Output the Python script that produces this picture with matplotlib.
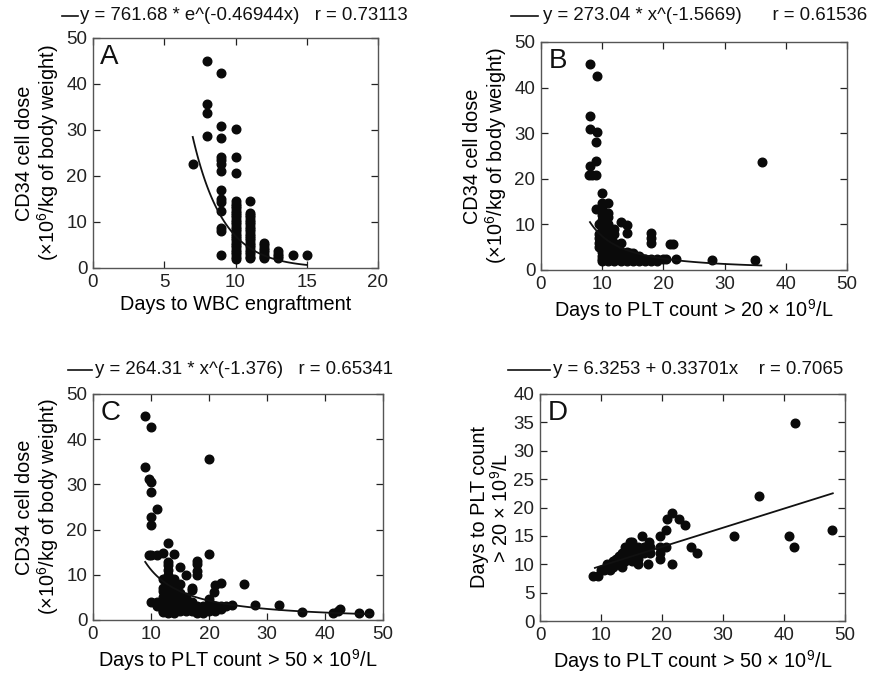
import numpy as np
import matplotlib
matplotlib.use("Agg")
import matplotlib.pyplot as plt
from matplotlib.lines import Line2D

plt.rcParams['font.family'] = ['Liberation Sans', 'DejaVu Sans']
plt.rcParams['mathtext.fontset'] = 'custom'
plt.rcParams['mathtext.rm'] = 'Liberation Sans'
plt.rcParams['mathtext.it'] = 'Liberation Sans'
plt.rcParams['mathtext.default'] = 'regular'

# ---------------- Panel A data: days to WBC engraftment vs CD34 dose
days_wbc_a = ([7] + [8]*4 + [9]*14 + [10]*29 + [11]*22 + [12]*8 + [13]*4 + [14, 15])
cd34_a = [22.7,
          45.1, 35.7, 33.7, 28.8,
          42.4, 30.9, 28.3, 24.1, 23.4, 22.7, 21.0, 16.9, 14.9, 14.3, 12.3, 8.7, 8.0, 2.9,
          30.2, 24.1, 20.7, 14.5, 14.0, 13.5, 13.0, 12.5, 12.0, 11.5, 11.0, 10.5, 10.0, 9.5,
          9.0, 8.5, 8.0, 7.5, 7.0, 6.5, 6.0, 5.5, 5.0, 4.5, 4.0, 3.5, 3.0, 2.5, 2.0,
          14.6, 12.0, 11.5, 11.0, 10.5, 10.0, 9.5, 9.0, 8.5, 8.0, 7.5, 7.0, 6.5, 6.0, 5.5,
          5.0, 4.5, 4.0, 3.5, 3.0, 2.5, 2.1,
          5.4, 4.9, 4.4, 3.9, 3.4, 2.9, 2.4, 2.1,
          3.6, 3.1, 2.6, 2.1,
          2.9, 2.9]
fit_a = (761.68, -0.46944, 7, 15)

# ---------------- Panel B data: days to PLT > 20 vs CD34 dose
days_plt20_b = [8, 9.1, 8, 8, 9.1, 9, 9, 8, 7.8, 8.3, 9, 36.1, 10, 10, 11, 9, 10, 11, 11,
                13, 14, 14, 18, 18, 18, 21, 21.5, 20.5, 22, 28, 35, 14.5, 15,
                9.5, 9.5, 9.5, 9.5, 9.5,
                10, 10, 10, 10, 10, 10, 10, 10, 10, 10, 10, 10,
                10.5, 10.5, 10.5, 10.5, 10.5, 10.5, 10.5, 10.5, 10.5,
                11, 11, 11, 11, 11, 11, 11, 11, 11, 11,
                11.5, 11.5, 11.5, 11.5, 11.5, 11.5,
                12, 12, 12, 12, 12, 12, 12, 12,
                12.5, 12.5, 13, 13, 13, 13, 13, 14, 14, 14, 14, 15, 15, 15,
                16, 16, 16, 17, 17, 18, 18, 19, 19, 20]
cd34_b = [45.2, 42.5, 33.7, 30.9, 30.2, 28.0, 24.0, 22.7, 20.9, 20.9, 20.9, 23.6, 16.8, 14.6, 14.6,
          13.4, 13.4, 12.5, 11.7, 10.5, 9.9, 8.1, 8.1, 7.0, 6.0, 5.7, 5.7, 2.4, 2.4, 2.2, 2.2, 3.7, 3.7,
          10, 8, 7, 6, 5,
          12, 11, 10, 9, 8, 7, 6, 5, 4, 3, 2.5, 2,
          10, 9, 8, 7, 6, 5, 4, 3, 2.5,
          10, 9, 8, 7, 6, 5, 4, 3, 2.5, 2,
          9, 7, 5, 4, 3, 2.5,
          9, 8, 6, 5, 4, 3, 2.5, 2,
          3.5, 2.5, 6, 4, 3, 2.5, 2, 4, 3, 2.5, 2, 3, 2.5, 2,
          3, 2.5, 2, 2.5, 2, 2.5, 2, 2.5, 2, 2.5]
fit_b = (273.04, -1.5669, 8, 36)

# ---------------- Panel C data: days to PLT > 50 vs CD34 dose
days_plt50_c = [9, 10, 9, 9.6, 10, 10, 11, 10, 10, 20, 13, 9.6, 10, 11, 12, 14, 20, 18, 18, 18, 18,
                13, 13, 15, 16, 17, 22, 21, 20.8, 26, 17, 12, 28, 32, 36, 41.4, 42.2, 42.5, 45.8,
                47.5, 12, 20,
                10, 11, 11, 12, 12, 12, 12, 12, 12,
                13, 13, 13, 13, 13, 13, 13, 13, 13, 13, 13,
                13.5, 13.5, 13.5, 13.5, 13.5, 13.5,
                14, 14, 14, 14, 14, 14, 14, 14,
                15, 15, 15, 15, 15, 15, 16, 16, 16, 16, 17, 17, 17,
                18, 18, 18, 19, 19, 19, 20, 20, 21, 21, 22, 22, 23, 24]
cd34_c = [45.2, 42.6, 33.9, 31.3, 30.6, 28.4, 24.5, 22.8, 21.0, 35.7, 17.1, 14.4, 14.4, 14.4, 14.9,
          14.5, 14.5, 13.1, 12.3, 10.9, 10.0, 12.9, 12.2, 11.7, 10.0, 7.1, 8.2, 7.7, 6.2, 8.0, 6.6,
          6.4, 3.3, 3.3, 1.8, 1.6, 2.1, 2.5, 1.6, 1.5, 1.8, 4.6,
          4, 4, 3, 9, 7, 5, 4, 3, 2,
          11, 10, 9, 8, 7, 6, 5, 4, 3, 2, 1.5,
          8, 6, 5, 4, 3, 2,
          9, 7, 6, 5, 4, 3, 2, 1.5,
          8, 6, 5, 4, 3, 2, 5, 4, 3, 2, 4, 3, 2,
          3, 2, 1.5, 3, 2, 1.5, 3, 2, 3, 2, 3, 2.5, 3, 3.3]
fit_c = (264.31, -1.376, 9, 48)

# ---------------- Panel D data: days to PLT > 50 vs days to PLT > 20
days_plt50_d = [41.8, 35.9, 31.8, 40.8, 41.7, 47.8, 21.7, 20.8, 22.8, 23.8, 20.7, 19.7, 16.8, 24.7,
                25.8, 21.7, 17.7, 19.7, 20.7, 19.7, 19.7, 17.8, 14.7,
                8.7, 9.5, 10, 10.5, 11, 11, 12, 12, 12.5, 13, 13, 13, 13.5, 14, 14, 14, 14, 14.5,
                15, 15, 15, 15.5, 16, 16, 16, 13.5, 16.5, 17, 17, 18, 18, 16, 15, 12, 11.5]
days_plt20_d = [34.9, 22, 15, 15, 13, 16, 19, 18, 18, 17, 16, 15, 15, 13,
                12, 10, 10, 13, 13, 12, 11, 14, 14,
                8, 8, 9, 9, 9.5, 10, 10, 10.5, 11, 10, 11, 11.5, 12, 10.5, 11, 12, 13, 11,
                12, 13, 14, 11.5, 12, 13, 11, 9.5, 12, 13, 12, 12, 13, 10, 10.5, 9.5, 9]
fit_d = (6.3253, 0.33701, 9, 48)

W, H = 882, 676
fig = plt.figure(figsize=(W / 100, H / 100), dpi=100)


def px_axes(l, t, r, b):
    return fig.add_axes([l / W, 1 - b / H, (r - l) / W, (b - t) / H])


def style(ax, xlim, xticks, ylim, yticks, letter):
    ax.set_xlim(*xlim)
    ax.set_ylim(*ylim)
    ax.set_xticks(xticks)
    ax.set_yticks(yticks)
    ax.tick_params(direction='in', top=True, right=True, length=5, width=0.9,
                   labelsize=13.5, colors='#222222', pad=4)
    for s in ax.spines.values():
        s.set_linewidth(1.0)
        s.set_color('#555555')
    ax.text(0.025, 0.975, letter, transform=ax.transAxes, ha='left', va='top',
            fontsize=20, color='#111111')


def header(x0, x1, y, xt, txt):
    fig.add_artist(Line2D([x0 / W, x1 / W], [1 - y / H, 1 - y / H],
                          transform=fig.transFigure, color='#111111', lw=1.2))
    fig.text(xt / W, 1 - y / H, txt, ha='left', va='center', fontsize=13.4, color='#111111')


mk = dict(marker='o', ls='none', ms=6.2, color='#0a0a0a')
ylab_cd34 = 'CD34 cell dose\n(×10$^{6}$/kg of body weight)'
LS = 14.3

# Panel A
axA = px_axes(93, 38, 378, 268)
axA.plot(days_wbc_a, cd34_a, **mk)
xa = np.linspace(fit_a[2], fit_a[3], 100)
axA.plot(xa, fit_a[0] * np.exp(fit_a[1] * xa), color='#111111', lw=1.3)
style(axA, (0, 20), [0, 5, 10, 15, 20], (0, 50), [0, 10, 20, 30, 40, 50], 'A')
axA.set_xlabel('Days to WBC engraftment', fontsize=LS, labelpad=3)
axA.set_ylabel(ylab_cd34, fontsize=LS, labelpad=4, linespacing=1.05)
header(62, 78, 16, 80, 'y = 761.68 * e^(-0.46944x)   r = 0.73113')

# Panel B
axB = px_axes(541, 42, 847, 270)
axB.plot(days_plt20_b, cd34_b, **mk)
xb = np.linspace(fit_b[2], fit_b[3], 100)
axB.plot(xb, fit_b[0] * xb ** fit_b[1], color='#111111', lw=1.3)
style(axB, (0, 50), [0, 10, 20, 30, 40, 50], (0, 50), [0, 10, 20, 30, 40, 50], 'B')
axB.set_xlabel('Days to PLT count > 20 × 10$^{9}$/L', fontsize=LS, labelpad=3)
axB.set_ylabel(ylab_cd34, fontsize=LS, labelpad=4, linespacing=1.05)
header(511, 538, 16, 543, 'y = 273.04 * x^(-1.5669)      r = 0.61536')

# Panel C
axC = px_axes(93, 394, 383, 620)
axC.plot(days_plt50_c, cd34_c, **mk)
xc = np.linspace(fit_c[2], fit_c[3], 100)
axC.plot(xc, fit_c[0] * xc ** fit_c[1], color='#111111', lw=1.3)
style(axC, (0, 50), [0, 10, 20, 30, 40, 50], (0, 50), [0, 10, 20, 30, 40, 50], 'C')
axC.set_xlabel('Days to PLT count > 50 × 10$^{9}$/L', fontsize=LS, labelpad=3)
axC.set_ylabel(ylab_cd34, fontsize=LS, labelpad=4, linespacing=1.05)
header(68, 92, 370, 95, 'y = 264.31 * x^(-1.376)   r = 0.65341')

# Panel D
axD = px_axes(540, 394, 845, 621)
axD.plot(days_plt50_d, days_plt20_d, **mk)
xd = np.linspace(fit_d[2], fit_d[3], 100)
axD.plot(xd, fit_d[0] + fit_d[1] * xd, color='#111111', lw=1.3)
style(axD, (0, 50), [0, 10, 20, 30, 40, 50], (0, 40), [0, 5, 10, 15, 20, 25, 30, 35, 40], 'D')
axD.set_xlabel('Days to PLT count > 50 × 10$^{9}$/L', fontsize=LS, labelpad=3)
axD.set_ylabel('Days to PLT count\n> 20 × 10$^{9}$/L', fontsize=LS, labelpad=1, linespacing=1.05)
header(508, 550, 370, 553, 'y = 6.3253 + 0.33701x    r = 0.7065')

fig.savefig('out.png', dpi=100)
